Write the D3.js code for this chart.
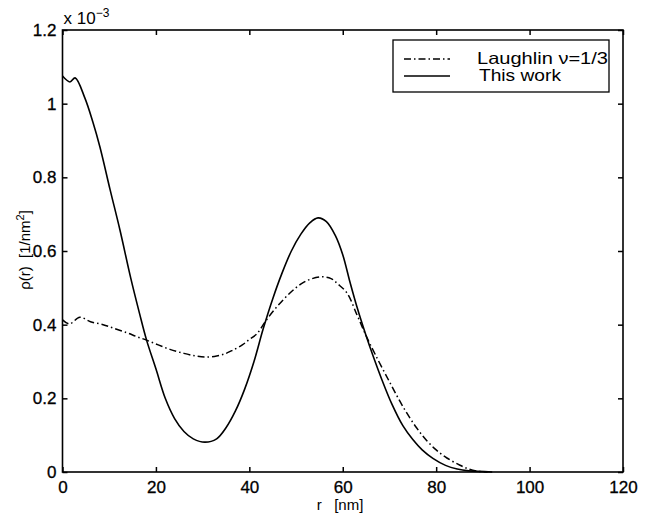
<!DOCTYPE html>
<html>
<head>
<meta charset="utf-8">
<script src="https://cdn.jsdelivr.net/npm/d3@7"></script>
<style>
  body { margin: 0; background: #fff; }
  svg text { font-family: "Liberation Sans", Arial, sans-serif; fill: #000; }
</style>
</head>
<body>
<div id="chart"></div>
<script>
var w = 655, h = 516;
var margin = { left: 62.5, right: 32, top: 30, bottom: 44 };

// r [nm] vs rho(r) in units of 1e-3 / nm^2
var laughlinR = [0, 1.5, 3.7, 6, 8.7, 11, 13.8, 16, 18, 20.5, 23, 26, 28.5, 30.5, 33, 35, 36.5, 38.5, 40, 41.6, 43.5, 46, 48.7, 51, 53, 55.4, 57.5, 59, 60.9, 63.1, 65, 67, 70, 73, 75.8, 78, 80, 82.3, 85, 87, 89, 91];
var laughlinRho = [0.413, 0.402, 0.42, 0.408, 0.40, 0.39, 0.378, 0.367, 0.358, 0.345, 0.333, 0.322, 0.315, 0.312, 0.315, 0.322, 0.331, 0.345, 0.36, 0.375, 0.41, 0.45, 0.486, 0.51, 0.523, 0.53, 0.525, 0.51, 0.486, 0.425, 0.37, 0.318, 0.245, 0.175, 0.12, 0.085, 0.06, 0.038, 0.019, 0.008, 0.002, 0];

var thisWorkR = [0, 1.6, 2.7, 4.8, 6.5, 8, 10.2, 12.3, 14.6, 16.5, 18, 20, 22, 24, 26, 28, 30.5, 33, 35, 37, 39, 41, 43, 45, 47, 49, 51, 53, 54.7, 56.5, 58.5, 60, 61.6, 63, 65, 66.5, 68.4, 70.5, 72.9, 75, 77, 79.3, 82, 84.5, 87, 92];
var thisWorkRho = [1.075, 1.059, 1.07, 1.015, 0.95, 0.883, 0.766, 0.657, 0.527, 0.43, 0.358, 0.28, 0.2, 0.145, 0.11, 0.09, 0.081, 0.09, 0.12, 0.165, 0.225, 0.3, 0.39, 0.47, 0.54, 0.6, 0.645, 0.677, 0.69, 0.68, 0.64, 0.59, 0.513, 0.45, 0.37, 0.315, 0.25, 0.185, 0.125, 0.088, 0.06, 0.037, 0.018, 0.008, 0.003, 0];

var xTicks = [0, 20, 40, 60, 80, 100, 120];
var yTicks = [0, 0.2, 0.4, 0.6, 0.8, 1, 1.2];
var seriesNames = ["Laughlin \u03bd=1/3", "This work"];

var xScale = d3.scaleLinear().domain([0, 120]).range([margin.left, w - margin.right]);
var yScale = d3.scaleLinear().domain([0, 1.2]).range([h - margin.bottom, margin.top]);

var svg = d3.select("#chart").append("svg")
  .attr("width", w)
  .attr("height", h);

var x0 = xScale(0), x1 = xScale(120), y0 = yScale(0), y1 = yScale(1.2);

// Axes (ticks inward, all four sides)
var xAxis = d3.axisBottom(xScale).tickValues(xTicks).tickSize(-5).tickPadding(9).tickFormat(d3.format("d"));
var xAxisTop = d3.axisTop(xScale).tickValues(xTicks).tickSize(-5).tickFormat("");
var yAxis = d3.axisLeft(yScale).tickValues(yTicks).tickSize(-5).tickPadding(6).tickFormat(function(d) { return d === 0 ? "0" : d3.format("~g")(d); });
var yAxisRight = d3.axisRight(yScale).tickValues(yTicks).tickSize(-5).tickFormat("");

svg.append("g").attr("class", "x_axis").attr("transform", "translate(0," + y0 + ")").call(xAxis);
svg.append("g").attr("transform", "translate(0," + y1 + ")").call(xAxisTop);
svg.append("g").attr("class", "y_axis").attr("transform", "translate(" + x0 + ",0)").call(yAxis);
svg.append("g").attr("transform", "translate(" + x1 + ",0)").call(yAxisRight);

svg.selectAll(".domain").remove();
svg.selectAll(".tick line").attr("stroke", "#000").attr("stroke-width", 1.5);
svg.selectAll(".tick text").attr("font-size", 17).attr("fill", "#000")
  .attr("stroke", "#000").attr("stroke-width", 0.3)
  .style("font-family", "Liberation Sans, Arial, sans-serif");

svg.append("rect")
  .attr("x", x0).attr("y", y1)
  .attr("width", x1 - x0).attr("height", y0 - y1)
  .attr("fill", "none").attr("stroke", "#000").attr("stroke-width", 1.6);

// exponent label
var expo = svg.append("text").attr("x", x0 + 1).attr("y", 24).attr("font-size", 17);
expo.append("tspan").text("x 10");
expo.append("tspan").attr("dy", -7).attr("font-size", 12).text("\u22123");

// axis labels
svg.append("text")
  .attr("x", 340).attr("y", 510)
  .attr("text-anchor", "middle").attr("font-size", 15)
  .attr("xml:space", "preserve")
  .text("r   [nm]");

var yl = svg.append("text")
  .attr("transform", "translate(30," + 250 + ") rotate(-90)")
  .attr("text-anchor", "middle").attr("font-size", 15)
  .attr("xml:space", "preserve");
yl.append("tspan").text("\u03c1(r)  [1/nm");
yl.append("tspan").attr("dy", -6).attr("font-size", 11).text("2");
yl.append("tspan").attr("dy", 6).text("]");

// lines
var line = d3.line()
  .x(function(d) { return xScale(d[0]); })
  .y(function(d) { return yScale(d[1]); })
  .curve(d3.curveCatmullRom.alpha(0.5));

var laughlin = laughlinR.map(function(r, i) { return [r, laughlinRho[i]]; });
var thisWork = thisWorkR.map(function(r, i) { return [r, thisWorkRho[i]]; });

svg.append("path")
  .datum(laughlin)
  .attr("d", line)
  .attr("fill", "none").attr("stroke", "#000").attr("stroke-width", 1.5)
  .attr("stroke-dasharray", "7,3,1.5,3");

svg.append("path")
  .datum(thisWork)
  .attr("d", line)
  .attr("fill", "none").attr("stroke", "#000").attr("stroke-width", 1.6);

// legend
var lg = svg.append("g");
lg.append("rect")
  .attr("x", 393).attr("y", 40).attr("width", 216).attr("height", 52)
  .attr("fill", "#fff").attr("stroke", "#000").attr("stroke-width", 1.3);

var legendY = [59, 76];
var dashes = ["7,3,1.5,3", null];
seriesNames.forEach(function(name, i) {
  lg.append("line")
    .attr("x1", 404).attr("x2", 450)
    .attr("y1", legendY[i]).attr("y2", legendY[i])
    .attr("stroke", "#000").attr("stroke-width", 1.4)
    .attr("stroke-dasharray", dashes[i]);
  lg.append("text")
    .attr("x", i === 0 ? 477 : 479).attr("y", legendY[i] + 5)
    .attr("font-size", 16.5)
    .attr("textLength", i === 0 ? 131 : 82)
    .attr("lengthAdjust", "spacingAndGlyphs")
    .text(name);
});
</script>
</body>
</html>
